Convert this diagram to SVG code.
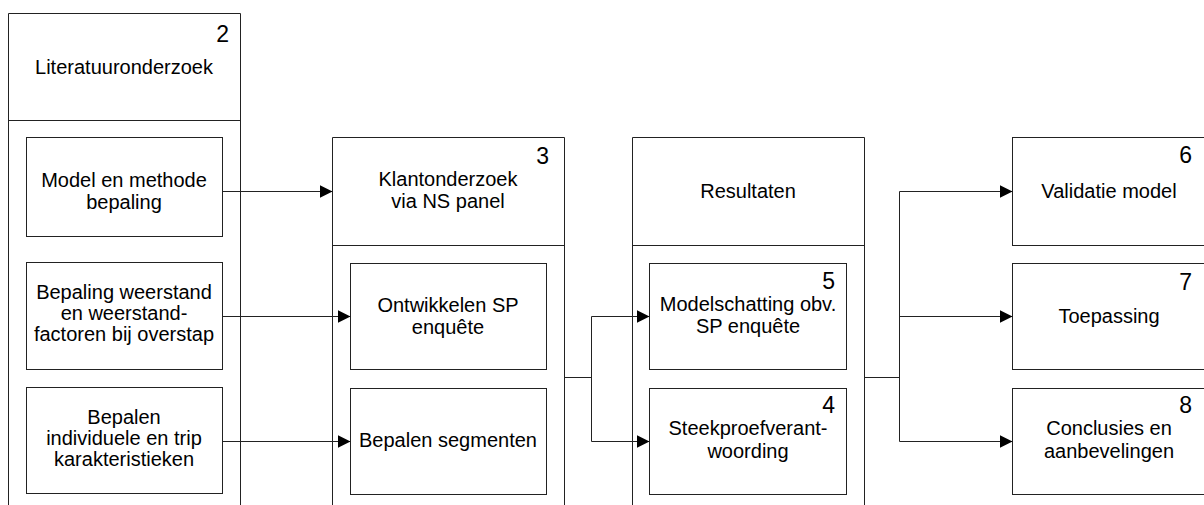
<svg xmlns="http://www.w3.org/2000/svg" width="1204" height="505" viewBox="0 0 1204 505">
<style>
.box{fill:#fff;stroke:#222;stroke-width:1}
.ln{fill:none;stroke:#222;stroke-width:1}
.t{font-family:"Liberation Sans",Arial,sans-serif;font-size:20px;fill:#000;text-anchor:middle}
.n{font-family:"Liberation Sans",Arial,sans-serif;font-size:23px;fill:#000;text-anchor:end}
</style>
<defs>
<marker id="arr" markerUnits="userSpaceOnUse" markerWidth="13" markerHeight="13" refX="13" refY="6.5" orient="auto">
<path d="M0,0 L13,6.5 L0,13 z" fill="#000"/>
</marker>
</defs>
<rect width="1204" height="505" fill="#fff"/>

<g id="col-literatuur">
<path class="ln" d="M8.5,506 V13.5 H240.5 V506 M8.5,120.5 H240.5"/>
<text class="n" x="229" y="42">2</text>
<text class="t" x="124" y="74">Literatuuronderzoek</text>
</g>
<g id="model-methode">
<rect class="box" x="26.5" y="137.5" width="196" height="99"/>
<text class="t" x="124" y="187">Model en methode</text>
<text class="t" x="124" y="209">bepaling</text>
</g>
<g id="bepaling-weerstand">
<rect class="box" x="26.5" y="262.5" width="196" height="107"/>
<text class="t" x="124" y="299">Bepaling weerstand</text>
<text class="t" x="124" y="320">en weerstand-</text>
<text class="t" x="124" y="341">factoren bij overstap</text>
</g>
<g id="bepalen-kenmerken">
<rect class="box" x="26.5" y="387.5" width="196" height="106"/>
<text class="t" x="124" y="424">Bepalen</text>
<text class="t" x="124" y="445">individuele en trip</text>
<text class="t" x="124" y="466">karakteristieken</text>
</g>

<g id="col-klantonderzoek">
<path class="ln" d="M332.5,506 V137.5 H564.5 V506 M332.5,245.5 H564.5"/>
<text class="n" x="549" y="164">3</text>
<text class="t" x="448" y="186">Klantonderzoek</text>
<text class="t" x="448" y="208">via NS panel</text>
</g>
<g id="ontwikkelen-sp">
<rect class="box" x="350.5" y="263.5" width="196" height="106"/>
<text class="t" x="448" y="312">Ontwikkelen SP</text>
<text class="t" x="448" y="334">enquête</text>
</g>
<g id="bepalen-segmenten">
<rect class="box" x="350.5" y="388.5" width="196" height="106"/>
<text class="t" x="448" y="447">Bepalen segmenten</text>
</g>

<g id="col-resultaten">
<path class="ln" d="M632.5,506 V137.5 H864.5 V506 M632.5,245.5 H864.5"/>
<text class="t" x="748" y="198">Resultaten</text>
</g>
<g id="modelschatting">
<rect class="box" x="649.5" y="263.5" width="197" height="106"/>
<text class="n" x="835" y="289">5</text>
<text class="t" x="748" y="311">Modelschatting obv.</text>
<text class="t" x="748" y="333">SP enquête</text>
</g>
<g id="steekproef">
<rect class="box" x="649.5" y="388.5" width="197" height="106"/>
<text class="n" x="835" y="413">4</text>
<text class="t" x="748" y="435">Steekproefverant-</text>
<text class="t" x="748" y="458">woording</text>
</g>

<g id="validatie">
<rect class="box" x="1012.5" y="137.5" width="200" height="108"/>
<text class="n" x="1192" y="163">6</text>
<text class="t" x="1109" y="198">Validatie model</text>
</g>
<g id="toepassing">
<rect class="box" x="1012.5" y="263.5" width="200" height="106"/>
<text class="n" x="1192" y="290">7</text>
<text class="t" x="1109" y="323">Toepassing</text>
</g>
<g id="conclusies">
<rect class="box" x="1012.5" y="388.5" width="200" height="106"/>
<text class="n" x="1192" y="413">8</text>
<text class="t" x="1109" y="435">Conclusies en</text>
<text class="t" x="1109" y="458">aanbevelingen</text>
</g>

<g id="connectors">
<path class="ln" d="M222.5,191.5 H332.5" marker-end="url(#arr)"/>
<path class="ln" d="M222.5,316.5 H350.5" marker-end="url(#arr)"/>
<path class="ln" d="M222.5,441.5 H350.5" marker-end="url(#arr)"/>
<path class="ln" d="M564.5,377.5 H591.5"/>
<path class="ln" d="M591.5,316.5 V441.5"/>
<path class="ln" d="M591.5,316.5 H649.5" marker-end="url(#arr)"/>
<path class="ln" d="M591.5,441.5 H649.5" marker-end="url(#arr)"/>
<path class="ln" d="M864.5,377.5 H899.5"/>
<path class="ln" d="M899.5,191.5 V441.5"/>
<path class="ln" d="M899.5,191.5 H1012.5" marker-end="url(#arr)"/>
<path class="ln" d="M899.5,316.5 H1012.5" marker-end="url(#arr)"/>
<path class="ln" d="M899.5,441.5 H1012.5" marker-end="url(#arr)"/>
</g>
</svg>
